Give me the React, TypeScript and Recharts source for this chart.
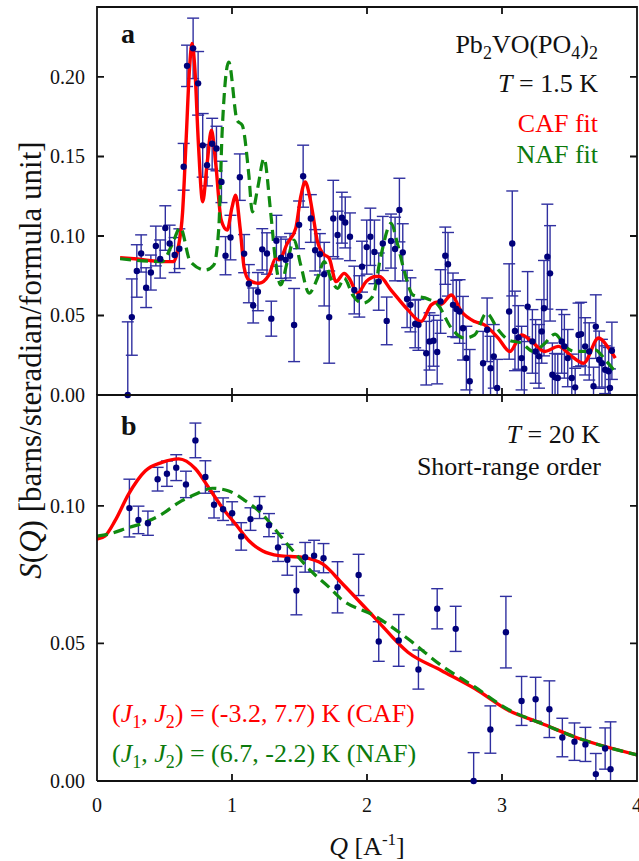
import React from "react";
import { ComposedChart, Line, Scatter, ErrorBar, XAxis, YAxis } from "recharts";

const qTicks = [0, 1, 2, 3, 4];
const aTicks = [0, 0.05, 0.1, 0.15, 0.2];
const bTicks = [0, 0.05, 0.1];

// panel a, T = 1.5 K : [Q, S, error]
const pointsA: [number, number, number][] = [
  [0.228, 0, 0.046], [0.258, 0.049, 0.024], [0.295, 0.078, 0.0165], [0.327, 0.089, 0.0117],
  [0.364, 0.0675, 0.0125], [0.399, 0.077, 0.011], [0.436, 0.0937, 0.0125], [0.468, 0.0855, 0.012],
  [0.506, 0.105, 0.014], [0.538, 0.0953, 0.0115], [0.575, 0.088, 0.011], [0.61, 0.092, 0.0125],
  [0.642, 0.1435, 0.0147], [0.667, 0.207, 0.013], [0.712, 0.218, 0.019], [0.749, 0.196, 0.02],
  [0.783, 0.157, 0.02], [0.815, 0.1445, 0.013], [0.853, 0.158, 0.016], [0.885, 0.155, 0.014],
  [0.922, 0.134, 0.013], [0.952, 0.0876, 0.012], [0.989, 0.099, 0.014], [1.058, 0.137, 0.0146],
  [1.09, 0.0889, 0.012], [1.125, 0.07, 0.012], [1.157, 0.0563, 0.011], [1.192, 0.065, 0.012],
  [1.224, 0.0916, 0.013], [1.259, 0.089, 0.013], [1.291, 0.048, 0.011], [1.329, 0.097, 0.016],
  [1.363, 0.0864, 0.013], [1.398, 0.085, 0.013], [1.43, 0.0876, 0.014], [1.46, 0.044, 0.023],
  [1.497, 0.107, 0.015], [1.527, 0.1376, 0.0195], [1.584, 0.111, 0.015], [1.616, 0.091, 0.013],
  [1.651, 0.0885, 0.013], [1.683, 0.076, 0.02], [1.72, 0.049, 0.029], [1.75, 0.111, 0.024],
  [1.782, 0.1006, 0.015], [1.814, 0.1115, 0.016], [1.839, 0.1085, 0.016], [1.874, 0.0995, 0.015],
  [1.906, 0.066, 0.015], [1.943, 0.062, 0.013], [1.963, 0.0807, 0.016], [1.998, 0.093, 0.017],
  [2.025, 0.0995, 0.018], [2.055, 0.09, 0.02], [2.087, 0.0713, 0.018], [2.117, 0.0953, 0.017],
  [2.146, 0.0466, 0.015], [2.178, 0.0968, 0.017], [2.208, 0.0918, 0.02], [2.24, 0.1163, 0.02],
  [2.265, 0.0897, 0.018], [2.297, 0.0604, 0.018], [2.322, 0.0567, 0.017], [2.357, 0.0447, 0.015],
  [2.381, 0.0441, 0.016], [2.439, 0.0263, 0.02], [2.463, 0.0337, 0.018], [2.493, 0.0341, 0.016],
  [2.52, 0.027, 0.02], [2.545, 0.0588, 0.02], [2.58, 0.0876, 0.018], [2.6, 0.0822, 0.02],
  [2.637, 0.0567, 0.02], [2.662, 0.0541, 0.018], [2.686, 0.0525, 0.02], [2.711, 0.042, 0.02],
  [2.736, 0.0232, 0.02], [2.761, 0.0086, 0.02], [2.86, 0.02, 0.02], [2.89, 0.041, 0.02],
  [2.915, 0.0169, 0.02], [2.939, 0.0243, 0.02], [2.964, 0.0044, 0.018], [3.053, 0.0525, 0.03],
  [3.076, 0.0953, 0.033], [3.096, 0.0403, 0.025], [3.121, 0.0362, 0.02], [3.145, 0.0232, 0.02],
  [3.165, 0.0165, 0.02], [3.19, 0.0556, 0.022], [3.225, 0.0337, 0.02], [3.249, 0.0274, 0.02],
  [3.274, 0.0243, 0.02], [3.294, 0.04, 0.02], [3.311, 0.0546, 0.03], [3.336, 0.087, 0.033],
  [3.356, 0.0765, 0.03], [3.373, 0.0127, 0.02], [3.393, 0.0111, 0.015], [3.413, 0.0107, 0.015],
  [3.442, 0.0337, 0.02], [3.462, 0.0306, 0.02], [3.487, 0.0232, 0.018], [3.517, 0.0107, 0.015],
  [3.542, 0.0048, 0.012], [3.567, 0.0378, 0.02], [3.586, 0.0383, 0.02], [3.616, 0.0306, 0.018],
  [3.646, 0.0274, 0.018], [3.678, 0.0055, 0.012], [3.695, 0.043, 0.02], [3.72, 0.0222, 0.018],
  [3.74, 0.02, 0.015], [3.764, 0.0159, 0.015], [3.79, 0.0149, 0.015], [3.8, 0.0044, 0.012],
  [3.814, 0.0278, 0.018],
];

// panel a, CAF fit : [Q, S]
const cafA: [number, number][] = [
  [0.171, 0.0864], [0.3, 0.0855], [0.481, 0.0839], [0.567, 0.0839], [0.6, 0.092], [0.634, 0.115],
  [0.66, 0.16], [0.685, 0.205], [0.704, 0.221], [0.725, 0.205], [0.75, 0.16], [0.783, 0.1215],
  [0.815, 0.145], [0.848, 0.1665], [0.88, 0.145], [0.92, 0.11], [0.964, 0.1037], [1.0, 0.118],
  [1.026, 0.1257], [1.06, 0.105], [1.09, 0.08], [1.125, 0.0723], [1.2, 0.0703], [1.274, 0.0755],
  [1.323, 0.0859], [1.348, 0.085], [1.41, 0.0954], [1.472, 0.1048], [1.51, 0.125], [1.542, 0.134],
  [1.575, 0.125], [1.596, 0.1152], [1.633, 0.0964], [1.671, 0.0891], [1.72, 0.086], [1.77, 0.0713],
  [1.831, 0.0765], [1.868, 0.0734], [1.93, 0.064], [1.993, 0.0713], [2.067, 0.0745], [2.092, 0.0745],
  [2.178, 0.066], [2.303, 0.0535], [2.401, 0.0462], [2.476, 0.0567], [2.526, 0.0585], [2.55, 0.0571],
  [2.625, 0.0629], [2.699, 0.0525], [2.798, 0.0462], [2.87, 0.0441], [2.972, 0.0358], [3.058, 0.0274],
  [3.145, 0.0378], [3.219, 0.0337], [3.318, 0.0274], [3.418, 0.0306], [3.517, 0.0243], [3.604, 0.02],
  [3.715, 0.0358], [3.79, 0.0295], [3.839, 0.0232],
];

// panel a, NAF fit : [Q, S]
const nafA: [number, number][] = [
  [0.171, 0.0857], [0.481, 0.0839], [0.555, 0.0943], [0.617, 0.1052], [0.691, 0.0839], [0.803, 0.0786],
  [0.865, 0.0818], [0.902, 0.1048], [0.927, 0.1654], [0.976, 0.2093], [1.038, 0.1727], [1.076, 0.1696],
  [1.125, 0.1382], [1.15, 0.1152], [1.19, 0.13], [1.237, 0.1487], [1.286, 0.1152], [1.323, 0.0839],
  [1.361, 0.0692], [1.41, 0.0839], [1.46, 0.0974], [1.509, 0.0818], [1.571, 0.064], [1.633, 0.0734],
  [1.683, 0.0839], [1.732, 0.0734], [1.782, 0.0671], [1.831, 0.0734], [1.894, 0.0629], [1.968, 0.0577],
  [2.042, 0.0619], [2.104, 0.088], [2.178, 0.1079], [2.228, 0.0943], [2.277, 0.0776], [2.34, 0.0629],
  [2.451, 0.0604], [2.526, 0.0567], [2.625, 0.042], [2.724, 0.0358], [2.798, 0.0378], [2.885, 0.0514],
  [2.972, 0.041], [3.046, 0.0347], [3.145, 0.0326], [3.232, 0.0274], [3.318, 0.0326], [3.393, 0.0383],
  [3.467, 0.0306], [3.541, 0.0274], [3.616, 0.0274], [3.69, 0.0284], [3.764, 0.0222], [3.827, 0.0159],
];

// panel b, T = 20 K : [Q, S, error]
const pointsB: [number, number, number][] = [
  [0.24, 0.0992, 0.0105], [0.307, 0.0949, 0.005], [0.377, 0.0937, 0.0044], [0.449, 0.1097, 0.0043],
  [0.518, 0.1117, 0.0046], [0.587, 0.1139, 0.0047], [0.659, 0.1078, 0.0048], [0.729, 0.1238, 0.0063],
  [0.803, 0.1105, 0.0059], [0.867, 0.1004, 0.0048], [0.934, 0.0988, 0.0041], [1.001, 0.0973, 0.0042],
  [1.068, 0.0889, 0.005], [1.137, 0.0952, 0.0041], [1.204, 0.0994, 0.004], [1.274, 0.093, 0.0042],
  [1.341, 0.0849, 0.0051], [1.41, 0.0804, 0.0056], [1.477, 0.0692, 0.0088], [1.542, 0.0813, 0.0054],
  [1.608, 0.0819, 0.0056], [1.678, 0.081, 0.0053], [1.782, 0.0704, 0.0093], [1.938, 0.0749, 0.0075],
  [2.087, 0.0507, 0.0072], [2.235, 0.0511, 0.0094], [2.381, 0.0405, 0.0071], [2.52, 0.0626, 0.0073],
  [2.657, 0.0553, 0.0082], [2.79, 0, 0.0103], [2.914, 0.0187, 0.0086], [3.029, 0.0541, 0.013],
  [3.145, 0.0291, 0.0089], [3.249, 0.0297, 0.008], [3.351, 0.0261, 0.0103], [3.447, 0.0158, 0.007],
  [3.537, 0.0143, 0.0068], [3.618, 0.0133, 0.0062], [3.695, 0.0025, 0.0075], [3.764, 0.0118, 0.0075],
  [3.804, 0.0043, 0.0172],
];

// panel b, CAF fit : [Q, S]
const cafB: [number, number][] = [
  [0, 0.0879], [0.06, 0.0891], [0.134, 0.0946], [0.233, 0.1042], [0.357, 0.1127], [0.481, 0.1158],
  [0.605, 0.1171], [0.729, 0.1135], [0.828, 0.1066], [0.927, 0.0994], [1.026, 0.0934], [1.125, 0.0873],
  [1.224, 0.0837], [1.348, 0.0819], [1.522, 0.0813], [1.671, 0.0789], [1.82, 0.0716], [2.054, 0.0595],
  [2.303, 0.0468], [2.55, 0.0402], [2.798, 0.0336], [3.046, 0.0257], [3.294, 0.0209], [3.54, 0.016],
  [4.0, 0.0095],
];

// panel b, NAF fit : [Q, S]
const nafB: [number, number][] = [
  [0, 0.089], [0.084, 0.0897], [0.233, 0.0921], [0.357, 0.094], [0.481, 0.097], [0.605, 0.1012],
  [0.729, 0.1042], [0.853, 0.1064], [0.976, 0.1054], [1.1, 0.1018], [1.224, 0.097], [1.348, 0.0897],
  [1.472, 0.0825], [1.596, 0.0758], [1.72, 0.0704], [1.807, 0.0662], [2.054, 0.0601], [2.303, 0.0517],
  [2.55, 0.042], [2.798, 0.0342], [3.046, 0.026], [3.294, 0.0209], [3.54, 0.016], [4.0, 0.0095],
];

const FONT = '"Liberation Serif", "Times New Roman", Times, serif';
const RED = "#ff0000";
const GREEN = "#108a10";
const GREEN_TEXT = "#0c7a0c";
const BAR = "#3030a0";
const DOT = "#00007a";
const AXIS = "#111111";
const PLOT_W = 540;
const TICK = 7;
const OFF = 8; // default tickSize 6 + tickMargin 2
const Q_MAX = 4;

// error bars stop at the axis, as in the figure: [lower, upper]
const toPts = (arr: [number, number, number][]) =>
  arr.map(([q, s, e]) => ({ q, s, e: [Math.min(e, s), e] }));
const toLine = (arr: [number, number][]) => arr.map(([q, s]) => ({ q, s }));

// box around the panel, in data units
const frameData = (yMax: number) => [
  { q: 0, s: 0 }, { q: Q_MAX, s: 0 }, { q: Q_MAX, s: yMax }, { q: 0, s: yMax }, { q: 0, s: 0 },
];

// inward tick marks on all four sides, as broken line segments (null = gap)
const tickData = (yMax: number, yTicks: number[], plotH: number) => {
  const dq = (TICK * Q_MAX) / PLOT_W;
  const ds = (TICK * yMax) / plotH;
  const out: { q: number; s: number | null }[] = [];
  qTicks.filter((q) => q > 0 && q < Q_MAX).forEach((q) => {
    out.push({ q, s: 0 }, { q, s: ds }, { q, s: null });
    out.push({ q, s: yMax }, { q, s: yMax - ds }, { q, s: null });
  });
  yTicks.filter((s) => s > 0).forEach((s) => {
    out.push({ q: 0, s }, { q: dq, s }, { q: dq, s: null });
    out.push({ q: Q_MAX, s }, { q: Q_MAX - dq, s }, { q: Q_MAX - dq, s: null });
  });
  return out;
};

const dot = (p: any) => <circle cx={p.cx} cy={p.cy} r={3.2} fill={DOT} />;

const xLabel = (show: boolean) => (p: any) =>
  show ? (
    <text x={p.x} y={p.y - OFF + 31} textAnchor="middle" fontSize={20} fill="#111" fontFamily={FONT}>
      {p.payload.value}
    </text>
  ) : (
    <g />
  );

const yLabel = (p: any) => (
  <text x={p.x + OFF - 12} y={p.y} dy="0.35em" textAnchor="end" fontSize={20} fill="#111" fontFamily={FONT}>
    {Number(p.payload.value).toFixed(2)}
  </text>
);

function Panel({
  height, top, points, caf, naf, yMax, yTicks, showX,
}: {
  height: number; top: number; points: [number, number, number][]; caf: [number, number][];
  naf: [number, number][]; yMax: number; yTicks: number[]; showX: boolean;
}) {
  const margin = showX ? { top: 15, right: 2, bottom: 0, left: 37 } : { top: 7, right: 2, bottom: 0, left: 37 };
  const xh = showX ? 80 : 15;
  const plotH = height - margin.top - margin.bottom - xh;
  return (
    <div style={{ position: "absolute", left: 0, top }}>
      <ComposedChart width={639} height={height} margin={margin}>
        <XAxis
          dataKey="q" type="number" domain={[0, Q_MAX]} ticks={qTicks} interval={0} height={xh}
          axisLine={false} tickLine={false} tick={xLabel(showX)}
        />
        <YAxis
          type="number" domain={[0, yMax]} ticks={yTicks} interval={0} width={60}
          axisLine={false} tickLine={false} tick={yLabel}
        />
        <Scatter data={toPts(points)} dataKey="s" shape={dot} isAnimationActive={false}>
          <ErrorBar dataKey="e" direction="y" width={6} stroke={BAR} strokeWidth={1.4} isAnimationActive={false} />
        </Scatter>
        <Line data={toLine(caf)} dataKey="s" type="monotone" stroke={RED} strokeWidth={3.4} dot={false} isAnimationActive={false} />
        <Line data={toLine(naf)} dataKey="s" type="monotone" stroke={GREEN} strokeWidth={3.2} strokeDasharray="11 6" dot={false} isAnimationActive={false} />
        <Line data={tickData(yMax, yTicks, plotH)} dataKey="s" type="linear" stroke={AXIS} strokeWidth={1.8} dot={false} activeDot={false} connectNulls={false} isAnimationActive={false} />
        <Line data={frameData(yMax)} dataKey="s" type="linear" stroke={AXIS} strokeWidth={1.8} dot={false} activeDot={false} isAnimationActive={false} />
      </ComposedChart>
    </div>
  );
}

function J({ a, b, rest, color, y }: { a: string; b: string; rest: string; color: string; y: number }) {
  return (
    <text x={112} y={y} fill={color} fontSize={26}>
      (<tspan fontStyle="italic">J</tspan>
      <tspan fontSize={18} dy={6}>1</tspan>
      <tspan dy={-6}>, </tspan>
      <tspan fontStyle="italic">J</tspan>
      <tspan fontSize={18} dy={6}>2</tspan>
      <tspan dy={-6}>) = ({a}, {b}) K ({rest})</tspan>
    </text>
  );
}

export default function App() {
  return (
    <div style={{ position: "relative", width: 639, height: 861, background: "#fff", fontFamily: FONT }}>
      <style>{`body{margin:0}`}</style>
      <Panel height={410} top={0} points={pointsA} caf={cafA} naf={nafA} yMax={0.244} yTicks={aTicks} showX={false} />
      <Panel height={481} top={380} points={pointsB} caf={cafB} naf={nafB} yMax={0.1403} yTicks={bTicks} showX={true} />
      <svg width={639} height={861} style={{ position: "absolute", left: 0, top: 0, pointerEvents: "none" }}>
        <g fontSize={26} fill="#111" fontFamily={FONT}>
          <text x={121} y={43} fontWeight="bold" fontSize={28}>a</text>
          <text x={121} y={435} fontWeight="bold" fontSize={28}>b</text>
          <text x={598} y={53} textAnchor="end">
            Pb<tspan fontSize={18} dy={6}>2</tspan>
            <tspan dy={-6}>VO(PO</tspan>
            <tspan fontSize={18} dy={6}>4</tspan>
            <tspan dy={-6}>)</tspan>
            <tspan fontSize={18} dy={6}>2</tspan>
          </text>
          <text x={598} y={92} textAnchor="end">
            <tspan fontStyle="italic">T</tspan> = 1.5 K
          </text>
          <text x={598} y={132} textAnchor="end" fill={RED}>CAF fit</text>
          <text x={598} y={163} textAnchor="end" fill={GREEN_TEXT}>NAF fit</text>
          <text x={600} y={443} textAnchor="end">
            <tspan fontStyle="italic">T</tspan> = 20 K
          </text>
          <text x={601} y={475} textAnchor="end">Short-range order</text>
          <J a="-3.2" b="7.7" rest="CAF" color={RED} y={722} />
          <J a="6.7" b="-2.2" rest="NAF" color={GREEN_TEXT} y={762} />
          <text x={367} y={855} textAnchor="middle">
            <tspan fontStyle="italic">Q</tspan> [A<tspan fontSize={17} dy={-10}>-1</tspan>
            <tspan dy={10}>]</tspan>
          </text>
          <text x={0} y={0} fontSize={31} textAnchor="middle" transform="translate(41 360) rotate(-90)">
            <tspan fontStyle="italic">S</tspan>(<tspan fontStyle="italic">Q</tspan>) [barns/steradian/formula unit]
          </text>
        </g>
      </svg>
    </div>
  );
}
